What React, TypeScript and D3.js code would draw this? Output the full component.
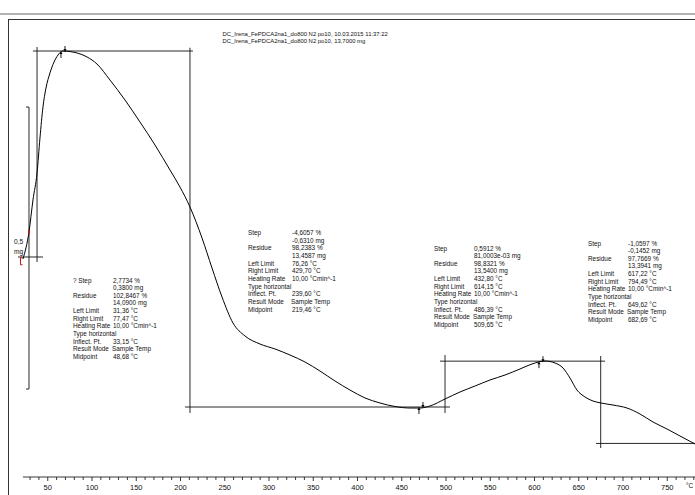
import React from "react";
import * as d3 from "d3";

const W = 695;
const H = 495;

// ---- header text ----
const titleLines = [
  "DC_Irena_FePDCA2na1_do800 N2 po10, 10.03.2015 11:37:22",
  "DC_Irena_FePDCA2na1_do800 N2 po10, 13,7000 mg",
];

// ---- TGA curve: sample temperature (°C) and mass (mg) ----
const tempC = [
  22.0, 28.8, 33.3, 37.9, 41.2, 44.6, 48.0, 52.5, 57.1, 61.6, 67.2, 80.8, 94.4,
  105.6, 120.3, 137.3, 154.2, 171.2, 188.1, 199.4, 210.7, 224.3, 235.6, 246.9,
  259.3, 272.9, 289.8, 306.8, 323.7, 340.7, 357.6, 374.6, 391.5, 408.5, 425.4,
  442.4, 459.3, 470.6, 481.9, 498.9, 515.8, 532.8, 549.7, 566.7, 583.6, 597.2,
  611.9, 623.2, 632.2, 640.1, 648.0, 657.1, 666.1, 675.1, 688.7, 704.5, 719.2,
  733.9, 749.7, 764.4, 781.4,
];
const massMg = [
  13.7212, 13.769, 13.8258, 13.8737, 13.9357, 13.9907, 14.0244, 14.051, 14.0705,
  14.0829, 14.09, 14.0874, 14.0794, 14.067, 14.0386, 14.0031, 13.9641, 13.9233,
  13.879, 13.8488, 13.8134, 13.7584, 13.7052, 13.6538, 13.6077, 13.5846,
  13.5704, 13.5616, 13.5509, 13.5385, 13.5225, 13.5048, 13.4888, 13.4747,
  13.4658, 13.4596, 13.4569, 13.4569, 13.4605, 13.4729, 13.4853, 13.4959,
  13.5066, 13.5154, 13.5261, 13.535, 13.5403, 13.5367, 13.5279, 13.5101,
  13.4888, 13.4764, 13.4693, 13.4658, 13.4622, 13.4569, 13.4463, 13.4321,
  13.4197, 13.4073, 13.3931,
];

// ---- x axis ----
const xTickLabels = [50, 100, 150, 200, 250, 300, 350, 400, 450, 500, 550, 600, 650, 700, 750];
const xUnit = "°C";

// ---- step evaluation construction (horizontal levels, midpoint verticals) ----
const levelMass = [14.09, 13.7247, 13.4587, 13.54, 13.3941];
const levelFromT = [33.3, 16.4, 205.1, 493.2, 669.5];
const levelToT = [214.1, 44.6, 504.5, 679.7, 800];

const midT = [37.9, 210.7, 498.9, 674.8];
const midTopMass = [14.0971, 14.0958, 13.5509, 13.5491];
const midBottomMass = [13.7158, 13.4481, 13.4481, 13.386];

// limit markers (step boundaries)
const limitT = [67.2, 471.7, 607.3];
const limitMass = [14.09, 13.4587, 13.54];

// red evaluation markers
const redT = [28.8, 19.2];
const redMass = [13.769, 13.718];

// scale bar 0,5 mg
const scaleBarT = 28.8;
const scaleBarFrom = 13.4906;
const scaleBarSpan = 0.5;
const scaleBarLabel = ["0,5", "mg"];

// ---- result tables ----
const step1Labels = ["? Step", "", "Residue", "", "Left Limit", "Right Limit", "Heating Rate", "Type horizontal", "Inflect. Pt.", "Result Mode", "Midpoint"];
const step1Values = ["2,7734 %", "0,3800 mg", "102,8467 %", "14,0900 mg", "31,36 °C", "77,47 °C", "10,00 °Cmin^-1", "", "33,15 °C", "Sample Temp", "48,68 °C"];

const step2Labels = ["Step", "", "Residue", "", "Left Limit", "Right Limit", "Heating Rate", "Type horizontal", "Inflect. Pt.", "Result Mode", "Midpoint"];
const step2Values = ["-4,6057 %", "-0,6310 mg", "98,2383 %", "13,4587 mg", "76,26 °C", "429,70 °C", "10,00 °Cmin^-1", "", "239,60 °C", "Sample Temp", "219,46 °C"];

const step3Labels = step2Labels;
const step3Values = ["0,5912 %", "81,0003e-03 mg", "98,8321 %", "13,5400 mg", "432,80 °C", "614,15 °C", "10,00 °Cmin^-1", "", "486,39 °C", "Sample Temp", "509,65 °C"];

const step4Labels = step2Labels;
const step4Values = ["-1,0597 %", "-0,1452 mg", "97,7669 %", "13,3941 mg", "617,22 °C", "794,49 °C", "10,00 °Cmin^-1", "", "649,62 °C", "Sample Temp", "682,69 °C"];

const FONT = "'Liberation Sans', Arial, sans-serif";
const INK = "#111";

function Block({ x, vx, y, labels, values }: { x: number; vx: number; y: number; labels: string[]; values: string[] }) {
  const lh = 7.65;
  return (
    <g fontFamily={FONT} fontSize={6.4} fill={INK}>
      {labels.map((l, i) => (
        <text key={"l" + i} x={x} y={y + i * lh}>{l}</text>
      ))}
      {values.map((v, i) => (
        <text key={"v" + i} x={labels[i] === "Result Mode" ? vx - 1 : vx} y={y + i * lh}>{v}</text>
      ))}
    </g>
  );
}

export default function App() {
  const x = d3.scaleLinear().domain([0, 800]).range([3.5, 711.5]);
  const y = d3.scaleLinear().domain([13.4587, 14.09]).range([407, 51]);

  const pts: [number, number][] = tempC.map((t, i) => [t, massMg[i]]);
  const line = d3
    .line<[number, number]>()
    .x((d) => x(d[0]))
    .y((d) => y(d[1]))
    .curve(d3.curveMonotoneX);

  const axisY = 477;
  const minorTicks = d3.range(30, 790, 10);

  const sbTop = y(scaleBarFrom + scaleBarSpan);
  const sbBot = y(scaleBarFrom);
  const sbX = x(scaleBarT);

  return (
    <svg
      width={W}
      height={H}
      viewBox={`0 0 ${W} ${H}`}
      style={{ position: "absolute", left: 0, top: 0, background: "#fff" }}
    >
      {/* frame */}
      <line x1={0} x2={W} y1={14} y2={14} stroke="#9a9a9a" strokeWidth={1.5} />
      <line x1={8} x2={W} y1={19.5} y2={19.5} stroke="#333" strokeWidth={1} />
      <line x1={8.5} x2={8.5} y1={19} y2={H} stroke="#333" strokeWidth={1} />

      {/* title */}
      <g fontFamily={FONT} fontSize={5.9} fill={INK}>
        {titleLines.map((t, i) => (
          <text key={i} x={222.5} y={35.5 + i * 7.65}>{t}</text>
        ))}
      </g>

      {/* step evaluation lines */}
      <g stroke="#111" strokeWidth={0.9}>
        {levelMass.map((m, i) => (
          <line key={"h" + i} x1={x(levelFromT[i])} x2={Math.min(W, x(levelToT[i]))} y1={y(m)} y2={y(m)} />
        ))}
        {midT.map((t, i) => (
          <line key={"v" + i} x1={x(t)} x2={x(t)} y1={y(midTopMass[i])} y2={y(midBottomMass[i])} />
        ))}
      </g>

      {/* scale bar */}
      <g stroke="#111" strokeWidth={0.9} fill="none">
        <path d={`M${sbX - 3},${sbTop}H${sbX}V${sbBot}H${sbX - 3}`} />
      </g>
      <g fontFamily={FONT} fontSize={6.6} fill={INK}>
        {scaleBarLabel.map((s, i) => (
          <text key={i} x={14} y={244 + i * 10}>{s}</text>
        ))}
      </g>

      {/* curve */}
      <path d={line(pts) || ""} fill="none" stroke="#000" strokeWidth={1} />

      {/* limit markers */}
      <g stroke="#000" strokeWidth={0.9} fill="#000">
        {limitT.map((t, i) => {
          const cx = x(t);
          const cy = y(limitMass[i]);
          return (
            <g key={i}>
              <line x1={cx - 2} x2={cx - 2} y1={cy + 7} y2={cy + 2} />
              <path d={`M${cx - 2},${cy}L${cx - 3.5},${cy + 3}L${cx - 0.5},${cy + 3}Z`} stroke="none" />
              <line x1={cx + 2} x2={cx + 2} y1={cy - 5} y2={cy - 1} />
              <path d={`M${cx + 2},${cy + 1}L${cx + 0.5},${cy - 2}L${cx + 3.5},${cy - 2}Z`} stroke="none" />
            </g>
          );
        })}
      </g>

      {/* red markers */}
      <g stroke="#d01010" strokeWidth={1} fill="none">
        <line x1={x(redT[0])} x2={x(redT[0])} y1={y(redMass[0]) - 3} y2={y(redMass[0]) + 3} />
        <path d={`M${x(redT[1]) + 2},${y(redMass[1]) - 3}H${x(redT[1])}V${y(redMass[1]) + 4}H${x(redT[1]) + 2}`} />
      </g>

      {/* result tables */}
      <Block x={73} vx={113} y={282.5} labels={step1Labels} values={step1Values} />
      <Block x={248} vx={292} y={235} labels={step2Labels} values={step2Values} />
      <Block x={434} vx={474} y={250.5} labels={step3Labels} values={step3Values} />
      <Block x={588} vx={628} y={245.5} labels={step4Labels} values={step4Values} />

      {/* x axis */}
      <g stroke="#222" strokeWidth={0.9}>
        <line x1={x(22)} x2={W} y1={axisY} y2={axisY} />
        {minorTicks.map((t) => (
          <line key={t} x1={x(t)} x2={x(t)} y1={axisY} y2={axisY + (t % 50 === 0 ? 4 : 3)} />
        ))}
      </g>
      <g fontFamily={FONT} fontSize={7.5} fill={INK} textAnchor="middle">
        {xTickLabels.map((t) => (
          <text key={t} x={x(t)} y={490}>{t}</text>
        ))}
        <text x={686} y={488} textAnchor="start" fontSize={6.5}>{xUnit}</text>
      </g>
    </svg>
  );
}
